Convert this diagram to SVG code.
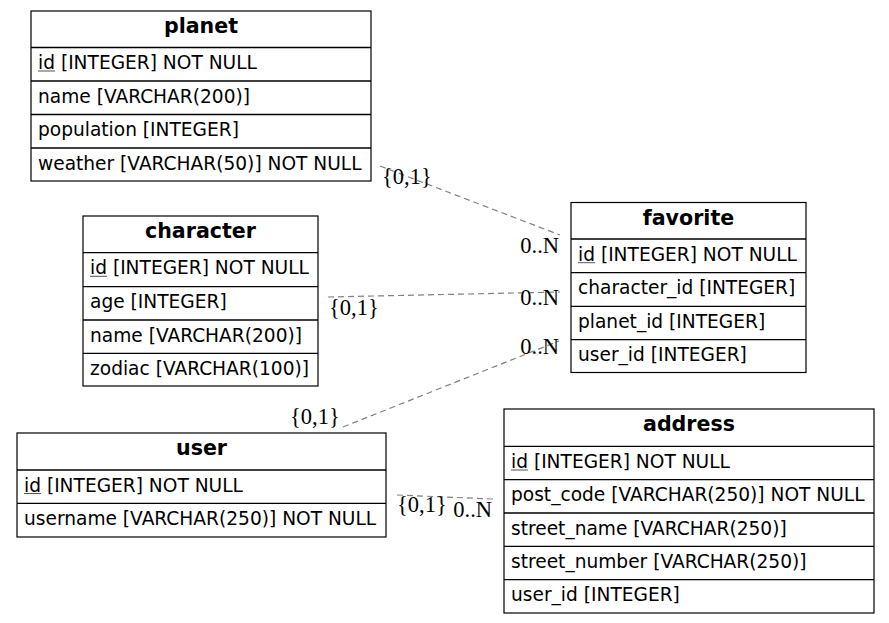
<svg xmlns="http://www.w3.org/2000/svg" width="889" height="623" viewBox="0 0 889 623">
<style>
.box{fill:#fff;stroke:#000;stroke-width:1.2}
.sep{stroke:#000;stroke-width:1.3}
.hd{font-family:"DejaVu Sans",sans-serif;font-weight:bold;font-size:20.6px;text-anchor:middle;fill:#000}
.fd{font-family:"DejaVu Sans",sans-serif;font-size:18.6px;fill:#000}
.ul{stroke:#555;stroke-width:1}
.edge{fill:none;stroke:#808080;stroke-width:1.2;stroke-dasharray:6,4}
.lb{font-family:"Liberation Serif","Times New Roman",serif;font-size:22.5px;fill:#000}
</style>
<rect width="889" height="623" fill="#fff"/>
<g id="connectors">
<path class="edge" d="M380,166 L560,235"/>
<path class="edge" d="M328,297 L560,292"/>
<path class="edge" d="M343,427 L559,341"/>
<path class="edge" d="M397,495 L493,499"/>
<text class="lb" x="382" y="183.5">{0,1}</text>
<text class="lb" x="559" y="252.5" text-anchor="end">0..N</text>
<text class="lb" x="329" y="315">{0,1}</text>
<text class="lb" x="559" y="305" text-anchor="end">0..N</text>
<text class="lb" x="290" y="423.5">{0,1}</text>
<text class="lb" x="559" y="354" text-anchor="end">0..N</text>
<text class="lb" x="397" y="511.5">{0,1}</text>
<text class="lb" x="492" y="516.5" text-anchor="end">0..N</text>
</g>
<g id="planet">
<rect class="box" x="31" y="11" width="340" height="170"/>
<line class="sep" x1="31" y1="47.5" x2="371" y2="47.5"/>
<line class="sep" x1="31" y1="81" x2="371" y2="81"/>
<line class="sep" x1="31" y1="114.5" x2="371" y2="114.5"/>
<line class="sep" x1="31" y1="148" x2="371" y2="148"/>
<text class="hd" x="201" y="33">planet</text>
<text class="fd" x="38" y="69">id [INTEGER] NOT NULL</text>
<line class="ul" x1="38" y1="71" x2="55" y2="71"/>
<text class="fd" x="38" y="102.5">name [VARCHAR(200)]</text>
<text class="fd" x="38" y="136">population [INTEGER]</text>
<text class="fd" x="38" y="169.5">weather [VARCHAR(50)] NOT NULL</text>
</g>
<g id="character">
<rect class="box" x="83" y="216" width="235" height="170"/>
<line class="sep" x1="83" y1="252.7" x2="318" y2="252.7"/>
<line class="sep" x1="83" y1="286.7" x2="318" y2="286.7"/>
<line class="sep" x1="83" y1="320" x2="318" y2="320"/>
<line class="sep" x1="83" y1="353.3" x2="318" y2="353.3"/>
<text class="hd" x="200.5" y="238">character</text>
<text class="fd" x="90" y="274.3">id [INTEGER] NOT NULL</text>
<line class="ul" x1="90" y1="276.3" x2="107" y2="276.3"/>
<text class="fd" x="90" y="308">age [INTEGER]</text>
<text class="fd" x="90" y="341.5">name [VARCHAR(200)]</text>
<text class="fd" x="90" y="375">zodiac [VARCHAR(100)]</text>
</g>
<g id="favorite">
<rect class="box" x="571" y="202.5" width="235" height="170"/>
<line class="sep" x1="571" y1="239" x2="806" y2="239"/>
<line class="sep" x1="571" y1="272.7" x2="806" y2="272.7"/>
<line class="sep" x1="571" y1="306.3" x2="806" y2="306.3"/>
<line class="sep" x1="571" y1="339.7" x2="806" y2="339.7"/>
<text class="hd" x="688.5" y="224.5">favorite</text>
<text class="fd" x="578" y="260.7">id [INTEGER] NOT NULL</text>
<line class="ul" x1="578" y1="262.7" x2="595" y2="262.7"/>
<text class="fd" x="578" y="294.4">character_id [INTEGER]</text>
<text class="fd" x="578" y="328">planet_id [INTEGER]</text>
<text class="fd" x="578" y="361.4">user_id [INTEGER]</text>
</g>
<g id="user">
<rect class="box" x="17" y="433" width="369" height="104"/>
<line class="sep" x1="17" y1="470" x2="386" y2="470"/>
<line class="sep" x1="17" y1="503.3" x2="386" y2="503.3"/>
<text class="hd" x="201.5" y="455">user</text>
<text class="fd" x="24" y="491.5">id [INTEGER] NOT NULL</text>
<line class="ul" x1="24" y1="493.5" x2="41" y2="493.5"/>
<text class="fd" x="24" y="525">username [VARCHAR(250)] NOT NULL</text>
</g>
<g id="address">
<rect class="box" x="504" y="409" width="370" height="204"/>
<line class="sep" x1="504" y1="446.3" x2="874" y2="446.3"/>
<line class="sep" x1="504" y1="479.7" x2="874" y2="479.7"/>
<line class="sep" x1="504" y1="513" x2="874" y2="513"/>
<line class="sep" x1="504" y1="546.3" x2="874" y2="546.3"/>
<line class="sep" x1="504" y1="579.7" x2="874" y2="579.7"/>
<text class="hd" x="689" y="431">address</text>
<text class="fd" x="511" y="468">id [INTEGER] NOT NULL</text>
<line class="ul" x1="511" y1="470" x2="528" y2="470"/>
<text class="fd" x="511" y="501.4">post_code [VARCHAR(250)] NOT NULL</text>
<text class="fd" x="511" y="534.7">street_name [VARCHAR(250)]</text>
<text class="fd" x="511" y="568">street_number [VARCHAR(250)]</text>
<text class="fd" x="511" y="601.4">user_id [INTEGER]</text>
</g>
</svg>
